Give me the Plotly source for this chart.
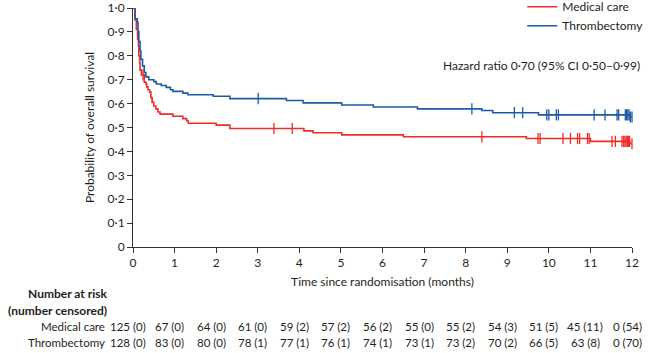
import numpy as np
import plotly.graph_objects as go

# ---------------- data ----------------
months = list(range(13))
y_ticks = [0, 0.1, 0.2, 0.3, 0.4, 0.5, 0.6, 0.7, 0.8, 0.9, 1.0]
y_tick_labels = ["0", "0·1", "0·2", "0·3", "0·4", "0·5", "0·6", "0·7", "0·8", "0·9", "1·0"]

# Medical care (step times, survival after step)
med_t = [0, 0.05, 0.08, 0.11, 0.13, 0.14, 0.16, 0.17, 0.20, 0.27, 0.31, 0.33, 0.36, 0.40,
         0.43, 0.46, 0.50, 0.55, 0.60, 0.65, 0.96, 1.20, 1.29, 1.33, 2.00, 2.33, 4.11, 4.33,
         5.02, 6.50, 9.46, 11.00, 11.95, 12.0]
med_s = [1.0, 0.95, 0.91, 0.87, 0.84, 0.80, 0.77, 0.74, 0.72, 0.69, 0.682, 0.67, 0.658, 0.648,
         0.625, 0.605, 0.59, 0.578, 0.565, 0.556, 0.547, 0.537, 0.527, 0.518, 0.510, 0.496, 0.486, 0.478,
         0.469, 0.461, 0.454, 0.442, 0.432, 0.432]
med_cens_t = [0.24, 3.39, 3.83, 8.39, 9.74, 9.79, 10.34, 10.52, 10.69, 10.74, 10.93, 10.97,
              11.52, 11.60, 11.76, 11.80, 11.83, 11.86, 11.89, 11.92, 11.94, 12.0]

# Thrombectomy
thr_t = [0, 0.05, 0.10, 0.12, 0.14, 0.17, 0.19, 0.23, 0.27, 0.31, 0.38, 0.50, 0.56, 0.68,
         0.80, 0.90, 0.96, 1.20, 1.32, 1.93, 2.33, 3.69, 4.09, 5.02, 5.78, 6.84, 8.39, 8.65,
         9.75, 11.95, 12.0]
thr_s = [1.0, 0.955, 0.94, 0.90, 0.86, 0.82, 0.785, 0.758, 0.73, 0.712, 0.70, 0.692, 0.682, 0.676,
         0.668, 0.658, 0.651, 0.644, 0.637, 0.631, 0.621, 0.613, 0.603, 0.594, 0.586, 0.578, 0.571, 0.562,
         0.553, 0.544, 0.544]
thr_cens_t = [3.01, 8.15, 9.17, 9.37, 9.95, 10.00, 10.18, 10.23, 11.09, 11.35, 11.64, 11.68,
              11.84, 11.87, 11.90, 11.93, 11.96, 12.0]

risk_rows = ["Medical care", "Thrombectomy"]
med_risk = ["125 (0)", "67 (0)", "64 (0)", "61 (0)", "59 (2)", "57 (2)", "56 (2)", "55 (0)",
            "55 (2)", "54 (3)", "51 (5)", "45 (11)", "0 (54)"]
thr_risk = ["128 (0)", "83 (0)", "80 (0)", "78 (1)", "77 (1)", "76 (1)", "74 (1)", "73 (1)",
            "73 (2)", "70 (2)", "66 (5)", "63 (8)", "0 (70)"]

hazard_text = "Hazard ratio 0·70 (95% CI 0·50–0·99)"

# ---------------- styling ----------------
RED = "#ee2d27"
BLUE = "#1d5ba6"
TXT = "#231f20"
FONT = "Lato"
ROW_FONT = 11.5


def surv_at(t, s, c):
    t = np.asarray(t)
    s = np.asarray(s)
    idx = np.searchsorted(t, np.asarray(c), side="right") - 1
    return s[idx]


fig = go.Figure()

for name, t, s, ct, col in [("Medical care", med_t, med_s, med_cens_t, RED),
                             ("Thrombectomy", thr_t, thr_s, thr_cens_t, BLUE)]:
    fig.add_trace(go.Scatter(x=t, y=s, mode="lines", name=name,
                             line=dict(color=col, width=1.6, shape="hv"),
                             cliponaxis=False))
    fig.add_trace(go.Scatter(x=ct, y=surv_at(t, s, ct), mode="markers", showlegend=False,
                             marker=dict(symbol="line-ns", size=8,
                                         line=dict(color=col, width=1.3)),
                             cliponaxis=False, hoverinfo="skip"))

annotations = []
annotations.append(dict(text=hazard_text, x=1.02, y=0.7615, xref="paper", yref="paper",
                        xanchor="right", yanchor="middle", showarrow=False,
                        font=dict(family=FONT, size=12, color=TXT)))
annotations.append(dict(text="<b>Number at risk</b>", x=-0.05, y=-0.1925, xref="paper", yref="paper",
                        xanchor="right", yanchor="middle", showarrow=False, borderpad=0,
                        font=dict(family=FONT, size=12, color=TXT)))
annotations.append(dict(text="<b>(number censored)</b>", x=-0.05, y=-0.2636, xref="paper", yref="paper",
                        xanchor="right", yanchor="middle", showarrow=False, borderpad=0,
                        font=dict(family=FONT, size=12, color=TXT)))
row_y = [-0.3347, -0.3996]
for label, yy, vals in zip(risk_rows, row_y, [med_risk, thr_risk]):
    annotations.append(dict(text=label, x=-0.054, y=yy, xref="paper", yref="paper",
                            xanchor="right", yanchor="middle", showarrow=False, borderpad=0,
                            font=dict(family=FONT, size=ROW_FONT, color=TXT)))
    for m, v in zip(months, vals):
        annotations.append(dict(text=v, x=m, y=yy, xref="x", yref="paper",
                                xanchor="center", yanchor="middle", showarrow=False, xshift=-5,
                                borderpad=0,
                                font=dict(family=FONT, size=ROW_FONT, color=TXT)))

fig.update_layout(
    width=648, height=353,
    margin=dict(l=133, r=16, t=8, b=106, autoexpand=False),
    paper_bgcolor="white", plot_bgcolor="white",
    font=dict(family=FONT, size=12, color=TXT),
    showlegend=True,
    legend=dict(x=0.78, y=1.0657, xanchor="left", yanchor="top", bgcolor="rgba(0,0,0,0)",
                font=dict(family=FONT, size=12, color=TXT), tracegroupgap=0,
                itemwidth=30),
    annotations=annotations,
    xaxis=dict(range=[0, 12], tickvals=months, ticktext=[str(m) for m in months],
               showline=True, linecolor="#333333", linewidth=1, ticks="outside", ticklen=5,
               tickcolor="#333333", showgrid=False, zeroline=False, automargin=False,
               ticklabeloverflow="allow",
               title=dict(text="Time since randomisation (months)", standoff=8,
                          font=dict(family=FONT, size=12, color=TXT)),
               tickfont=dict(family=FONT, size=12, color=TXT)),
    yaxis=dict(range=[0, 1], tickvals=y_ticks, ticktext=y_tick_labels,
               showline=True, linecolor="#333333", linewidth=1, ticks="outside", ticklen=5,
               tickcolor="#333333", showgrid=False, zeroline=False, automargin=False,
               ticklabeloverflow="allow",
               title=dict(text="Probability of overall survival", standoff=10,
                          font=dict(family=FONT, size=12, color=TXT)),
               tickfont=dict(family=FONT, size=12, color=TXT)),
)

fig.write_html("out.html")
